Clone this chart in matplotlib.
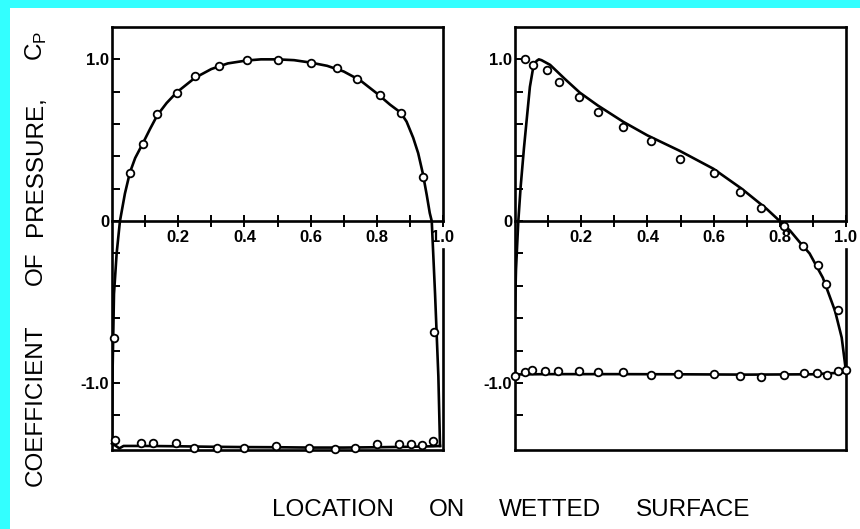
import matplotlib.pyplot as plt
from matplotlib.patches import Rectangle

# ---- data (x = location on wetted surface) ----
# left plot: upper surface curve + data points
left_up_x = [0.0, 0.002, 0.006, 0.014, 0.024, 0.039, 0.054, 0.07, 0.093, 0.115,
             0.137, 0.165, 0.195, 0.25, 0.3, 0.35, 0.407, 0.45, 0.5, 0.55, 0.6,
             0.65, 0.7, 0.75, 0.8, 0.84, 0.872, 0.89, 0.91, 0.925, 0.939, 0.951,
             0.96, 0.966, 0.976, 0.986, 0.991]
left_up_y = [-1.39, -0.9, -0.45, -0.2, 0.0, 0.17, 0.3, 0.39, 0.48, 0.57,
             0.655, 0.73, 0.795, 0.885, 0.94, 0.975, 0.993, 1.0, 1.0, 0.995, 0.98,
             0.96, 0.925, 0.87, 0.79, 0.72, 0.671, 0.615, 0.515, 0.42, 0.295, 0.16,
             0.05, 0.0, -0.45, -0.96, -1.39]
left_lo_x = [0.0, 0.012, 0.022, 0.035, 0.1, 0.2, 0.3, 0.4, 0.5, 0.6, 0.7, 0.8,
             0.9, 0.97, 0.991]
left_lo_y = [-1.375, -1.39, -1.405, -1.39, -1.39, -1.392, -1.395, -1.397, -1.398,
             -1.40, -1.40, -1.398, -1.395, -1.392, -1.39]
left_pts_up_x = [0.054, 0.093, 0.137, 0.195, 0.25, 0.324, 0.407, 0.50, 0.60, 0.679,
                 0.741, 0.81, 0.872, 0.939, 0.973, 0.006]
left_pts_up_y = [0.30, 0.475, 0.66, 0.79, 0.895, 0.957, 0.996, 0.996, 0.975, 0.946,
                 0.878, 0.778, 0.671, 0.27, -0.685, -0.72]
left_pts_lo_x = [0.009, 0.087, 0.125, 0.193, 0.248, 0.318, 0.399, 0.495, 0.596,
                 0.675, 0.735, 0.80, 0.866, 0.904, 0.937, 0.971]
left_pts_lo_y = [-1.356, -1.372, -1.372, -1.372, -1.40, -1.40, -1.40, -1.39, -1.405,
                 -1.41, -1.405, -1.38, -1.38, -1.38, -1.385, -1.36]

# right plot
right_up_x = [0.0, 0.003, 0.01, 0.017, 0.027, 0.035, 0.045, 0.055, 0.065, 0.072,
              0.08, 0.106, 0.15, 0.196, 0.25, 0.327, 0.40, 0.498, 0.599, 0.685,
              0.76, 0.80, 0.831, 0.86, 0.89, 0.93, 0.967, 0.987, 1.0]
right_up_y = [-0.55, -0.3, 0.0, 0.21, 0.45, 0.62, 0.83, 0.95, 0.99, 1.0,
              0.995, 0.966, 0.88, 0.794, 0.715, 0.614, 0.53, 0.434, 0.324, 0.2,
              0.076, 0.0, -0.059, -0.13, -0.20, -0.35, -0.556, -0.72, -0.93]
right_lo_x = [0.0, 0.1, 0.3, 0.5, 0.7, 0.9, 1.0]
right_lo_y = [-0.948, -0.946, -0.946, -0.947, -0.949, -0.947, -0.935]
right_pts_up_x = [0.03, 0.055, 0.096, 0.134, 0.194, 0.252, 0.327, 0.41, 0.498, 0.60,
                  0.68, 0.742, 0.813, 0.871, 0.914, 0.941, 0.977, 1.0]
right_pts_up_y = [1.0, 0.966, 0.935, 0.858, 0.765, 0.676, 0.583, 0.496, 0.386, 0.297,
                  0.179, 0.08, -0.032, -0.152, -0.272, -0.39, -0.55, -0.92]
right_pts_lo_x = [0.0, 0.03, 0.05, 0.09, 0.131, 0.193, 0.25, 0.325, 0.41, 0.493,
                  0.60, 0.68, 0.742, 0.813, 0.873, 0.911, 0.943, 0.977]
right_pts_lo_y = [-0.96, -0.93, -0.92, -0.925, -0.925, -0.925, -0.93, -0.93, -0.95,
                  -0.943, -0.943, -0.96, -0.964, -0.95, -0.94, -0.94, -0.95, -0.924]

x_ticks = [0.1, 0.2, 0.3, 0.4, 0.5, 0.6, 0.7, 0.8, 0.9, 1.0]
x_labels = ['', '0.2', '', '0.4', '', '0.6', '', '0.8', '', '1.0']
y_ticks = [-1.2, -1.0, -0.8, -0.6, -0.4, -0.2, 0.0, 0.2, 0.4, 0.6, 0.8, 1.0]
y_labels = ['', '-1.0', '', '', '', '', '0', '', '', '', '', '1.0']

plt.rcParams['font.family'] = ['Liberation Sans', 'DejaVu Sans']

W, H = 860, 529
fig = plt.figure(figsize=(W / 100, H / 100), dpi=100)
fig.patch.set_facecolor('#33FFFF')
fig.add_artist(Rectangle((10 / W, 0), 1 - 10 / W, 1 - 8 / H, transform=fig.transFigure,
                         facecolor='white', edgecolor='none', zorder=0))

YLO, YHI = -1.415, 1.2
LW = 1.9


def setup(ax):
    ax.set_xlim(0, 1)
    ax.set_ylim(YLO, YHI)
    for s in ax.spines.values():
        s.set_linewidth(LW)
    ax.spines['bottom'].set_position(('data', 0))
    ax.spines['right'].set_bounds(YLO, -0.17)
    # rest of the frame: upper right edge and bottom edge
    ax.plot([1, 1], [0, YHI], color='k', lw=LW, clip_on=False, solid_capstyle='projecting')
    ax.plot([0, 1], [YLO, YLO], color='k', lw=LW, clip_on=False, solid_capstyle='projecting')
    ax.set_xticks(x_ticks)
    ax.set_xticklabels(x_labels)
    ax.set_yticks(y_ticks)
    ax.set_yticklabels(y_labels)
    ax.tick_params(axis='x', direction='inout', length=8.5, width=1.4, pad=2,
                   labelsize=12)
    ax.tick_params(axis='y', direction='in', length=5.8, width=1.4, pad=2,
                   labelsize=12)
    for t in ax.get_xticklabels() + ax.get_yticklabels():
        t.set_fontweight('bold')


def draw(ax, ux, uy, lx, ly, pux, puy, plx, ply):
    ax.plot(ux, uy, color='k', lw=LW, solid_joinstyle='round')
    ax.plot(lx, ly, color='k', lw=LW, solid_joinstyle='round', clip_on=False)
    for px, py in [(pux, puy), (plx, ply)]:
        ax.plot(px, py, 'o', mfc='white', mec='k', ms=5.5, mew=1.3,
                clip_on=False, zorder=3)


ax1 = fig.add_axes([112 / W, 1 - 450 / H, 331 / W, 423 / H])
setup(ax1)
draw(ax1, left_up_x, left_up_y, left_lo_x, left_lo_y,
     left_pts_up_x, left_pts_up_y, left_pts_lo_x, left_pts_lo_y)

ax2 = fig.add_axes([515 / W, 1 - 450 / H, 331 / W, 423 / H])
setup(ax2)
draw(ax2, right_up_x, right_up_y, right_lo_x, right_lo_y,
     right_pts_up_x, right_pts_up_y, right_pts_lo_x, right_pts_lo_y)

# axis titles, word by word as in the original lettering
fs = 17.5
for word, xc in [('LOCATION', 333), ('ON', 447), ('WETTED', 550), ('SURFACE', 693)]:
    fig.text(xc / W, 1 - 510 / H, word, fontsize=fs, ha='center', va='center')
for word, yc in [('COEFFICIENT', 405), ('OF', 268), ('PRESSURE,', 166),
                 (r'C$_\mathregular{P}$', 46)]:
    fig.text(36 / W, 1 - yc / H, word, fontsize=fs, rotation=90,
             ha='center', va='center')

plt.savefig('out.png', dpi=100, facecolor=fig.get_facecolor())
